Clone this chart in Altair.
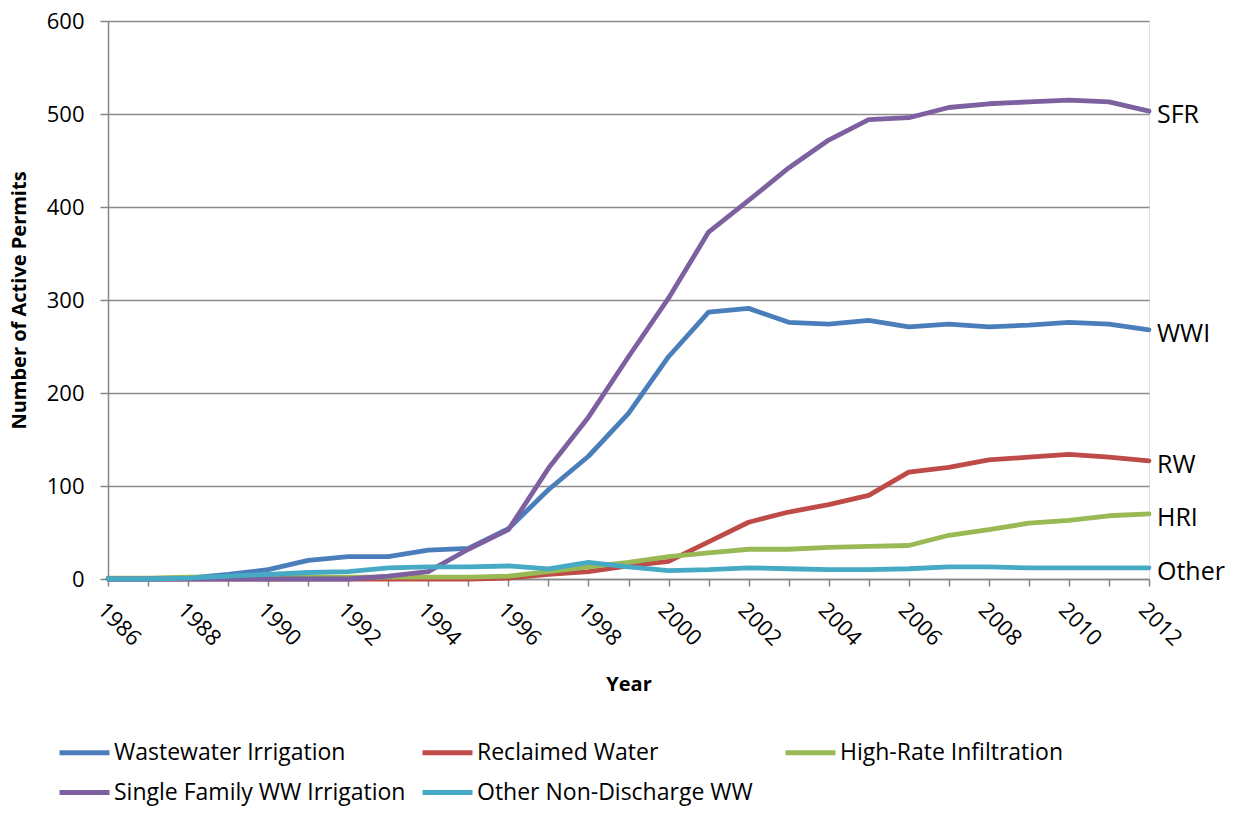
import altair as alt
import pandas as pd

years = list(range(1986, 2013))
wwi = [0, 0, 1, 5, 10, 20, 24, 24, 31, 33, 54, 96, 132, 178, 239, 287, 291, 276, 274, 278, 271, 274, 271, 273, 276, 274, 268]
rw = [0, 0, 0, 0, 0, 0, 0, 0, 0, 0, 1, 5, 8, 14, 19, 40, 61, 72, 80, 90, 115, 120, 128, 131, 134, 131, 127]
hri = [1, 1, 2, 2, 2, 2, 2, 2, 2, 2, 3, 8, 13, 18, 24, 28, 32, 32, 34, 35, 36, 47, 53, 60, 63, 68, 70]
sfr = [0, 0, 0, 0, 0, 0, 0, 3, 8, 32, 53, 119, 174, 239, 302, 373, 407, 442, 472, 494, 496, 507, 511, 513, 515, 513, 503]
other = [0, 0, 1, 3, 5, 7, 8, 12, 13, 13, 14, 11, 18, 13, 9, 10, 12, 11, 10, 10, 11, 13, 13, 12, 12, 12, 12]

series_names = ["Wastewater Irrigation", "Reclaimed Water", "High-Rate Infiltration",
                "Single Family WW Irrigation", "Other Non-Discharge WW"]
short_labels = ["WWI", "RW", "HRI", "SFR", "Other"]
colors = ["#4A7EBB", "#BE4B48", "#98B954", "#7D60A0", "#46AAC5"]
values = [wwi, rw, hri, sfr, other]

rows = []
for i, (name, vals) in enumerate(zip(series_names, values)):
    for y, v in zip(years, vals):
        rows.append({"Year": y, "Permits": v, "Series": name, "ord": i})
df = pd.DataFrame(rows)

lab = pd.DataFrame({
    "Year": [years[-1]] * 5,
    "Permits": [v[-1] for v in values],
    "Label": short_labels,
})

FONT = "Open Sans"
GRAY = "#868686"

base_x = alt.X("Year:Q", scale=alt.Scale(domain=[1986, 2012], nice=False, zero=False),
               axis=alt.Axis(values=years, labelExpr="datum.value % 2 == 0 ? datum.value : ''",
                             labelAngle=45, labelAlign="left", labelBaseline="top",
                             labelFontSize=22, labelColor="black", labelPadding=13,
                             tickSize=7, tickColor=GRAY, domainColor=GRAY,
                             domainWidth=1.5, tickWidth=1.5, grid=False,
                             title="Year", titleFontSize=20, titleFontWeight="bold",
                             titleColor="black", titlePadding=25, labelFont=FONT, titleFont=FONT,
                             labelOverlap=False))
base_y = alt.Y("Permits:Q", scale=alt.Scale(domain=[0, 600], nice=False),
               axis=alt.Axis(values=[0, 100, 200, 300, 400, 500, 600], labelFontSize=22,
                             labelColor="black", labelPadding=16, tickSize=8,
                             tickColor=GRAY, domainColor=GRAY, domainWidth=1.5,
                             tickWidth=1.5, gridColor="#8C8C8C", gridWidth=1.5,
                             title="Number of Active Permits", titleFontSize=20,
                             titleFontWeight="bold", titleColor="black", titlePadding=17,
                             labelFont=FONT, titleFont=FONT))

lines = alt.Chart(df).mark_line(strokeWidth=4.8, strokeCap="round", strokeJoin="round").encode(
    x=base_x,
    y=base_y,
    color=alt.Color("Series:N", scale=alt.Scale(domain=series_names, range=colors),
                    legend=alt.Legend(title=None, orient="none", direction="horizontal",
                                      legendX=-51, legendY=704,
                                      columns=3, symbolType="stroke", symbolSize=2500,
                                      symbolStrokeWidth=5, labelFontSize=23, labelFont=FONT,
                                      labelColor="black", gridAlign="all", columnPadding=6,
                                      rowPadding=-8, labelOffset=2, labelLimit=400)),
    order=alt.Order("ord:Q"),
    detail="Series:N",
)

labels = alt.Chart(lab).mark_text(align="left", baseline="middle", dx=8, dy=4,
                                  fontSize=25, font=FONT, color="black").encode(
    x=alt.X("Year:Q"),
    y=alt.Y("Permits:Q"),
    text="Label:N",
)

chart = alt.layer(lines, labels).properties(
    width=1041, height=558,
    autosize=alt.AutoSizeParams(type="none"),
    padding={"left": 100, "top": 13, "right": 78, "bottom": 227},
).configure_view(stroke=None).configure(font=FONT)

chart.save("out.html", embed_options={"renderer": "svg", "actions": False})
